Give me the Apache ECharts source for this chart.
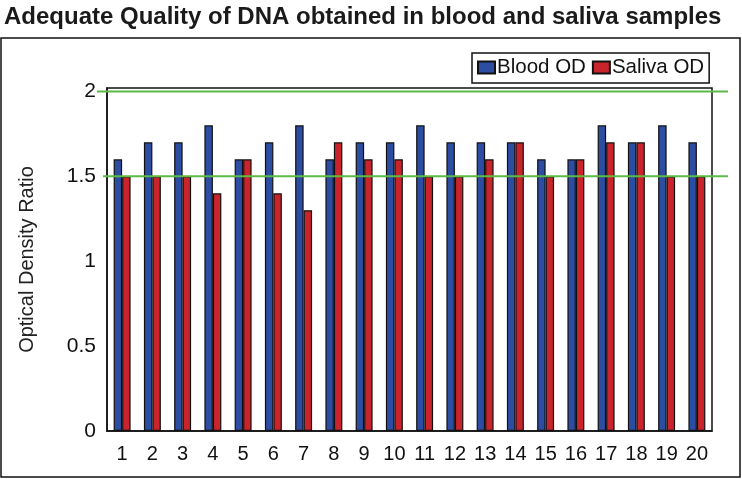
<!DOCTYPE html>
<html><head><meta charset="utf-8">
<script src="https://cdn.jsdelivr.net/npm/echarts@6/dist/echarts.min.js"></script>
<style>html,body{margin:0;padding:0;background:#fff}#c{width:742px;height:479px}</style>
</head><body><div id="c"></div>
<script>
const categories = ['1','2','3','4','5','6','7','8','9','10','11','12','13','14','15','16','17','18','19','20'];
const bloodOD  = [1.6,1.7,1.7,1.8,1.6,1.7,1.8,1.6,1.7,1.7,1.8,1.7,1.7,1.7,1.6,1.6,1.8,1.7,1.8,1.7];
const salivaOD = [1.5,1.5,1.5,1.4,1.6,1.4,1.3,1.7,1.6,1.6,1.5,1.5,1.6,1.7,1.5,1.6,1.7,1.7,1.5,1.5];
const refLines = [2, 1.5];
const yTicks = [0, 0.5, 1, 1.5, 2];

const FONT = '"Liberation Sans", Arial, sans-serif';
const chart = echarts.init(document.getElementById('c'), null, {renderer:'canvas'});
const option = {
  animation: false,
  backgroundColor: '#fff',
  title: {
    text: 'Adequate Quality of DNA obtained in blood and saliva samples',
    left: 4, top: 5, padding: 0,
    textStyle: {fontFamily: FONT, fontSize: 24, fontWeight: 'bold', color: '#1a1a1a'}
  },
  legend: {
    data: ['Blood OD', 'Saliva OD'],
    left: 472, top: 53,
    padding: [4, 5, 5, 5],
    borderColor: '#111', borderWidth: 1.5,
    itemWidth: 17, itemHeight: 12, itemGap: 6,
    icon: 'rect',
    textStyle: {fontFamily: FONT, fontSize: 20.5, color: '#111', padding: [0,0,0,-3]}
  },
  grid: {
    left: 107, right: 30, top: 88, bottom: 48,
    show: true, borderColor: '#111', borderWidth: 1.5, backgroundColor: 'transparent'
  },
  xAxis: {
    type: 'category', data: categories,
    axisLine: {lineStyle: {color: '#111', width: 1.5}},
    axisTick: {show: false},
    axisLabel: {fontFamily: FONT, fontSize: 20, color: '#111', margin: 13, interval: 0}
  },
  yAxis: {
    type: 'value', min: 0, max: 2.02, interval: 0.5,
    name: 'Optical Density Ratio', nameLocation: 'middle', nameGap: 70, nameRotate: 90,
    nameTextStyle: {fontFamily: FONT, fontSize: 20, color: '#222'},
    axisLine: {show: true, lineStyle: {color: '#111', width: 1.5}},
    axisTick: {show: false},
    splitLine: {show: false},
    axisLabel: {
      fontFamily: FONT, fontSize: 21, color: '#111', margin: 11, showMaxLabel: false,
      formatter: v => (yTicks.indexOf(v) >= 0 ? String(v) : '')
    }
  },
  series: [
    {name: 'Blood OD', type: 'bar', data: bloodOD, barGap: '0%', barCategoryGap: '44%',
     itemStyle: {color: '#2D4DA2', borderColor: '#111', borderWidth: 1.2}},
    {name: 'Saliva OD', type: 'bar', data: salivaOD,
     itemStyle: {color: '#C9232B', borderColor: '#111', borderWidth: 1.2}}
  ]
};
chart.setOption(option);

const frame = {type:'rect', shape:{x:1, y:38, width:739, height:439}, style:{fill:'none', stroke:'#111', lineWidth:1.5}, z:0, silent:true};
const starts = [97, 103];
const gLines = refLines.map((v, i) => {
  const y = chart.convertToPixel({yAxisIndex: 0}, v);
  return {type:'line', shape:{x1: starts[i], y1: y, x2: 728, y2: y},
          style:{stroke:'#5DBA47', lineWidth: 2}, z: 100, silent: true};
});
chart.setOption({graphic: [frame].concat(gLines)});
</script></body></html>
